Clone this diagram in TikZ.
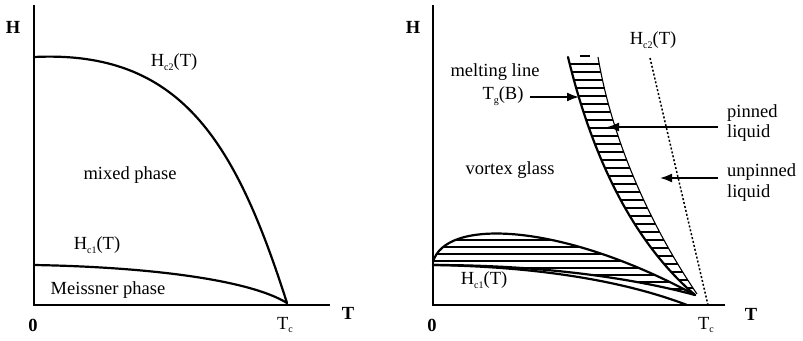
\documentclass[tikz,border=0pt]{standalone}
\usepackage{fontspec}
\setmainfont{Liberation Serif}
\usetikzlibrary{arrows.meta}
\newcommand\lowsub[1]{\raisebox{-0.45ex}{\fontsize{10}{10}\selectfont #1}}
\tikzset{
  lbl/.style={font=\fontsize{18.5}{21}\selectfont, inner sep=0pt},
  axlbl/.style={font=\fontsize{18.5}{21}\selectfont\bfseries, inner sep=0pt},
  curve/.style={line width=2.2pt, line join=round, line cap=round},
  axisline/.style={line width=2.2pt},
  hatch/.style={line width=1.5pt},
  arr/.style={line width=1.8pt, -{Latex[length=12pt,width=9pt]}},
  hdot/.style={line width=1.5pt, dash pattern=on 2pt off 2pt}
}
\begin{document}
\begin{tikzpicture}[x=1pt,y=-1pt]
\useasboundingbox (0,0) rectangle (803,340);
\fill[white] (0,0) rectangle (803,340);

% ---------------- left panel ----------------
\coordinate (Lo) at (34,305);
\coordinate (Ltop) at (34,5);
\coordinate (Lend) at (330,305);
\draw[axisline] (Ltop) -- (Lo) -- (Lend);
\node[axlbl] (LH) at (13,27) {H};
\node[axlbl] (LT) at (348,313) {T};
\node[axlbl] (L0) at (33,325) {0};
\node[lbl] (LTc) at (285,325) {T\lowsub{c}};

\coordinate (Lhc2s) at (34,57);
\coordinate (Lhc1s) at (34,265);
\coordinate (LTcpt) at (287,303);
\draw[curve] (Lhc2s) .. controls (180,50) and (235,140) .. (LTcpt);
\draw[curve] (Lhc1s) .. controls (150,267) and (250,280) .. (LTcpt);

\node[lbl] (Lhc2) at (174,62) {H\lowsub{c2}(T)};
\node[lbl] (Lmix) at (130,175) {mixed phase};
\node[lbl] (Lhc1) at (97,245) {H\lowsub{c1}(T)};
\node[lbl] (Lmei) at (108,290) {Meissner phase};

% ---------------- right panel ----------------
\coordinate (Ro) at (433,305);
\coordinate (Rtop) at (433,5);
\coordinate (Rend) at (725,305);
\draw[axisline] (Rtop) -- (Ro) -- (Rend);
\node[axlbl] (RH) at (413,27) {H};
\node[axlbl] (RT) at (751,314) {T};
\node[axlbl] (R0) at (432,325) {0};
\node[lbl] (RTc) at (706,325) {T\lowsub{c}};

% melting band
\coordinate (BL) at (568,57);
\coordinate (BR) at (598,57);
\coordinate (Btip) at (695,295);
\coordinate (BtipR) at (697,294);
\begin{scope}
\clip (BL) .. controls (588,140) and (625,235) .. (Btip) -- (BtipR) .. controls (650,225) and (612,140) .. (BR) -- cycle;
\foreach \yy in {64,72,...,296} \draw[hatch] (550,\yy) -- (720,\yy);
\end{scope}
\draw[hatch] (580,56) -- (590,56);
\draw[curve] (BL) .. controls (588,140) and (625,235) .. (Btip);
\draw[line width=1.1pt] (BtipR) .. controls (650,225) and (612,140) .. (BR);

% lens
\coordinate (Ls) at (433,262);
\coordinate (Ls2) at (433,265);
\begin{scope}
\clip (Ls) .. controls (445,218) and (560,222) .. (Btip) .. controls (640,280) and (550,265) .. (Ls2) -- cycle;
\foreach \yy in {240,247,...,296} \draw[hatch] (430,\yy) -- (700,\yy);
\end{scope}
\draw[curve] (Ls) .. controls (445,218) and (560,222) .. (Btip);
\draw[curve] (Ls2) .. controls (550,265) and (640,280) .. (Btip);
\coordinate (Rhc1e) at (687,305);
\draw[curve] (Ls2) .. controls (560,267) and (640,287) .. (Rhc1e);

% Hc2 dotted
\coordinate (Dtop) at (650,58);
\coordinate (Dbot) at (708,305);
\draw[hdot] (Dtop) -- (Dbot);

% labels
\node[lbl] (Rhc2) at (653,40) {H\lowsub{c2}(T)};
\node[lbl] (Rmelt) at (495,72) {melting line};
\node[lbl] (Rtg) at (503,96) {T\lowsub{g}(B)};
\node[lbl] (Rvg) at (510,170) {vortex glass};
\node[lbl] (Rhc1) at (484,280) {H\lowsub{c1}(T)};
\node[lbl, anchor=west] (Rp1) at (727,113) {pinned};
\node[lbl, anchor=west] (Rp2) at (727,133) {liquid};
\node[lbl, anchor=west] (Ru1) at (727,172) {unpinned};
\node[lbl, anchor=west] (Ru2) at (727,193) {liquid};

% arrows
\coordinate (Mtail) at (530,97);
\coordinate (Mtip) at (579,97);
\draw[arr] (Mtail) -- (Mtip);
\coordinate (Ptail) at (718,127);
\coordinate (Ptip) at (607,127);
\draw[arr] (Ptail) -- (Ptip);
\coordinate (Utail) at (718,178);
\coordinate (Utip) at (660,178);
\draw[arr] (Utail) -- (Utip);
\end{tikzpicture}
\end{document}
